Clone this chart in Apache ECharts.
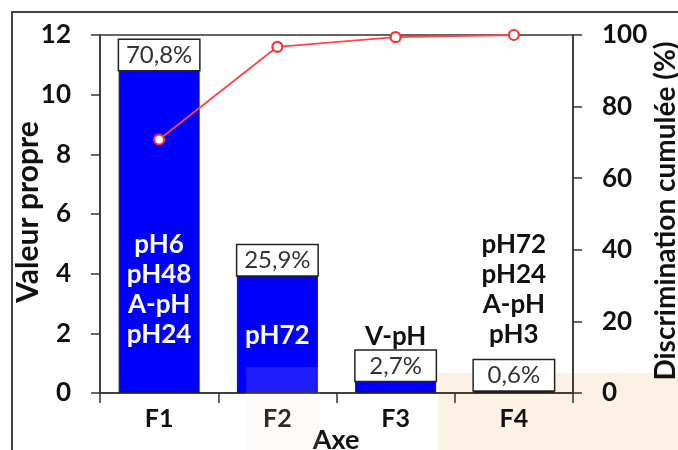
<!DOCTYPE html>
<html><head><meta charset="utf-8">
<script src="https://cdn.jsdelivr.net/npm/echarts@6/dist/echarts.min.js"></script>
<style>html,body{margin:0;padding:0;background:#fff}#c{width:678px;height:450px}</style>
</head><body><div id="c"></div>
<script>
const categories = ['F1','F2','F3','F4'];
const eigenValues = [10.83, 3.95, 0.41, 0.09];
const percentLabels = ['70,8%','25,9%','2,7%','0,6%'];
const cumulative = [70.8, 96.7, 99.4, 100];
const noteTexts = ['pH6\npH48\nA-pH\npH24', 'pH72', 'V-pH', 'pH72\npH24\nA-pH\npH3'];
const noteAnchors = [3.45, 1.94, 1.88, 3.45];
const noteColors = ['#ffffff','#ffffff','#111111','#111111'];
const leftTicks = {min:0, max:12, interval:2};
const rightTicks = {min:0, max:100, interval:20};

const FONT = 'Lato, "Open Sans", sans-serif';
const chart = echarts.init(document.getElementById('c'), null, {renderer:'canvas'});
chart.setOption({
  animation:false,
  backgroundColor:'#fff',
  textStyle:{fontFamily:FONT},
  grid:{left:100, right:105, top:35, bottom:57, show:true, borderColor:'#333', borderWidth:1.5, backgroundColor:'transparent'},
  graphic:[
    {type:'rect', z:-10, shape:{x:438, y:373, width:240, height:77}, style:{fill:'#fdf1e5'}},
    {type:'rect', z:100, shape:{x:246, y:367, width:74, height:83}, style:{fill:'rgba(250,232,215,0.12)'}},
    {type:'polyline', shape:{points:[[12,450],[12,12],[678,12]]}, style:{stroke:'#444', lineWidth:2, fill:null}},
    {type:'text', x:336, y:440, style:{text:'Axe', fontSize:27, fontWeight:'bold', fontFamily:FONT, fill:'#111', align:'center', verticalAlign:'middle'}},
    {type:'text', rotation:Math.PI/2, x:28, y:212, style:{text:'Valeur propre', fontSize:30, fontWeight:'bold', fontFamily:FONT, fill:'#111', align:'center', verticalAlign:'middle'}},
    {type:'text', rotation:Math.PI/2, x:666, y:211, style:{text:'Discrimination cumulée (%)', fontSize:28, fontWeight:'bold', fontFamily:FONT, fill:'#111', align:'center', verticalAlign:'middle'}}
  ],
  xAxis:{type:'category', data:categories, boundaryGap:true,
    axisLine:{lineStyle:{color:'#333', width:1.5}},
    axisTick:{show:true, length:10, inside:false, lineStyle:{color:'#333', width:1.5}},
    axisLabel:{fontSize:25, fontWeight:'bold', color:'#111', margin:13, fontFamily:FONT}},
  yAxis:[
    {type:'value', min:leftTicks.min, max:leftTicks.max, interval:leftTicks.interval,
      axisLine:{show:true, lineStyle:{color:'#333', width:1.5}},
      axisTick:{show:true, length:9, lineStyle:{color:'#333', width:1.5}},
      splitLine:{show:false},
      axisLabel:{fontSize:26, fontWeight:'bold', color:'#111', margin:29, fontFamily:FONT}},
    {type:'value', min:rightTicks.min, max:rightTicks.max, interval:rightTicks.interval, position:'right',
      axisLine:{show:true, lineStyle:{color:'#333', width:1.5}},
      axisTick:{show:true, length:9, lineStyle:{color:'#333', width:1.5}},
      splitLine:{show:false},
      axisLabel:{fontSize:26, fontWeight:'bold', color:'#111', margin:29, fontFamily:FONT}}
  ],
  series:[
    {type:'bar', data:eigenValues, barWidth:81, yAxisIndex:0,
      itemStyle:{color:'#0000ff', borderColor:'#222', borderWidth:1},
      label:{show:true, position:'top', distance:0,
        formatter:p=>percentLabels[p.dataIndex],
        backgroundColor:'#fff', borderColor:'#222', borderWidth:1.5,
        width:80, height:30, lineHeight:30, padding:0, align:'center',
        fontSize:24, color:'#333', fontFamily:FONT}},
    {type:'line', data:cumulative, yAxisIndex:1, symbol:'circle', symbolSize:10,
      lineStyle:{color:'#ff4545', width:1.8},
      itemStyle:{color:'#fff', borderColor:'#ff3030', borderWidth:2.2}, z:5},
    {type:'scatter', yAxisIndex:0, symbolSize:0, silent:true, z:10,
      itemStyle:{opacity:1},
      data:categories.map((c,i)=>({value:[c, noteAnchors[i]], label:{color:noteColors[i]}})),
      label:{show:true, opacity:1, position:'inside', formatter:p=>noteTexts[p.dataIndex],
        fontSize:26, fontWeight:'bold', lineHeight:30, align:'center', verticalAlign:'middle', fontFamily:FONT}}
  ]
});
</script></body></html>
